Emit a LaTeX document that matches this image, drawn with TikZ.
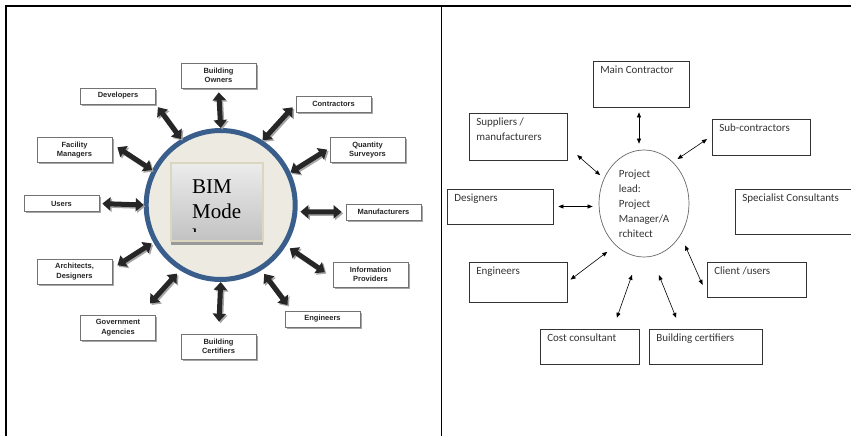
\documentclass[tikz,border=0pt]{standalone}
\usepackage{fontspec}
\setmainfont{Liberation Serif}
\newfontfamily\boxfont{Liberation Sans}
\newfontfamily\rolefont{Carlito}
\usetikzlibrary{arrows.meta,shapes.geometric,shadows}
\definecolor{ringblue}{RGB}{58,94,140}
\definecolor{ringfill}{RGB}{237,235,225}
\definecolor{bimedge}{RGB}{218,214,192}
\tikzset{
  party/.style={draw=black!55, fill=white, line width=0.7pt, minimum width=75pt, minimum height=16pt,
    inner sep=1pt, align=center, text=black!85, font=\boxfont\bfseries\fontsize{7.5}{9.5}\selectfont,
    drop shadow={shadow xshift=1.6pt, shadow yshift=-1.6pt, fill=black!35, opacity=1}},
  tall/.style={minimum height=25pt},
  fat/.style={line width=5pt, draw=black!85, {Triangle[width=13pt,length=8pt]}-{Triangle[width=13pt,length=8pt]},
    preaction={draw=black!35, line width=5pt, {Triangle[width=13pt,length=8pt]}-{Triangle[width=13pt,length=8pt]},
      transform canvas={shift={(1.5pt,-1.5pt)}}}},
  rolebox/.style={draw=black!80, line width=0.8pt, inner sep=0pt},
  roletext/.style={anchor=north west, inner sep=0pt, align=left, text=black!80,
    font=\rolefont\fontsize{11}{15}\selectfont},
  link/.style={line width=0.6pt, {Triangle[width=4pt,length=5pt]}-{Triangle[width=4pt,length=5pt]}}
}
\begin{document}
\begin{tikzpicture}[x=1pt,y=-1pt]
  \useasboundingbox (0,0) rectangle (851,436);
  \draw[line width=1.6pt] (6,436) -- (6,6) -- (851,6);
  \draw[line width=1.6pt] (441.5,6) -- (441.5,436);

  \node[circle, draw=ringblue, fill=ringfill, line width=5pt, minimum size=149pt, outer sep=2.5pt] (bim) at (220.7,205) {};
  \node[draw=bimedge, line width=1.2pt, top color=gray!15, bottom color=gray!48, minimum width=92pt, minimum height=78pt,
    drop shadow={shadow xshift=0pt, shadow yshift=-4pt, fill=black!40, opacity=1}] (bimbox) at (217,202) {};
  \begin{scope}
    \clip (171,163) rectangle (263,231);
    \node[anchor=north west, inner sep=0pt, align=left, font=\fontsize{21}{25}\selectfont] (bimtxt) at (192,180) {BIM\\Mode\\l};
  \end{scope}

  \node[party, tall] (own) at (218.5,75.5) {Building\\Owners};
  \node[party] (dev) at (118,96) {Developers};
  \node[party] (con) at (333.5,104) {Contractors};
  \node[party, tall] (fac) at (74.5,150) {Facility\\Managers};
  \node[party, tall] (qs) at (367.5,150) {Quantity\\Surveyors};
  \node[party] (usr) at (61.5,203.5) {Users};
  \node[party] (man) at (383.5,212) {Manufacturers};
  \node[party, tall] (arc) at (74.5,271.5) {Architects,\\Designers};
  \node[party, tall] (inf) at (370.5,274.5) {Information\\Providers};
  \node[party, tall] (gov) at (118,327.5) {Government\\Agencies};
  \node[party] (eng) at (322.5,319) {Engineers};
  \node[party, tall] (cer) at (218.5,346.5) {Building\\Certifiers};

  \draw[fat, shorten <=4pt] (own.south) -- (bim.north);
  \draw[fat, shorten <=3.5pt] (dev.south east) -- (bim.121);
  \draw[fat, shorten <=4.5pt] (con.west) -- (bim.57);
  \draw[fat, shorten <=6pt] ([yshift=6pt]fac.east) -- (bim.153);
  \draw[fat, shorten <=3pt] ([yshift=2pt]qs.west) -- (bim.25);
  \draw[fat, shorten <=3pt] (usr.east) -- (bim.west);
  \draw[fat, shorten <=4pt, shorten >=3pt] (man.west) -- (bim.-5);
  \draw[fat, shorten <=6pt, shorten >=2pt] ([yshift=3pt]arc.east) -- (bim.209);
  \draw[fat, shorten <=9.5pt, shorten >=4.5pt] ([yshift=-3pt]inf.west) -- (bim.-32);
  \draw[fat, shorten <=15pt, shorten >=4.5pt] ([xshift=22pt]gov.north) -- (bim.238);
  \draw[fat, shorten <=7pt, shorten >=4.5pt] ([xshift=7pt]eng.north west) -- (bim.-58);
  \draw[fat, shorten <=12pt] (cer.north) -- (bim.south);

  \node[ellipse, draw=black!60, line width=0.7pt, minimum width=90pt, minimum height=107pt, inner sep=0pt,
    align=left, text=black!80, font=\rolefont\fontsize{11}{15}\selectfont] (lead) at (644,203.5)
    {Project\\lead:\\Project\\Manager/A\\rchitect};

  \node[rolebox, minimum width=96pt, minimum height=46pt] (main) at (641,84) {};
  \node[rolebox, minimum width=98pt, minimum height=47pt] (sup) at (518,136.5) {};
  \node[rolebox, minimum width=98pt, minimum height=36pt] (sub) at (761,137) {};
  \node[rolebox, minimum width=106pt, minimum height=35pt] (des) at (500,206.5) {};
  \node[rolebox, minimum width=130pt, minimum height=45pt] (spc) at (800,211.5) {};
  \node[rolebox, minimum width=98pt, minimum height=40pt] (engr) at (518,282) {};
  \node[rolebox, minimum width=99pt, minimum height=35pt] (cli) at (756.5,279.5) {};
  \node[rolebox, minimum width=99pt, minimum height=35pt] (cst) at (589.5,346.5) {};
  \node[rolebox, minimum width=113pt, minimum height=35pt] (bcr) at (705.5,346.5) {};

  \node[roletext] (maint) at ([shift={(7.5pt,-5.5pt)}]main.north west) {Main Contractor};
  \node[roletext] (supt) at ([shift={(7.5pt,-5.5pt)}]sup.north west) {Suppliers /\\manufacturers};
  \node[roletext] (subt) at ([shift={(7.5pt,-5.5pt)}]sub.north west) {Sub-contractors};
  \node[roletext] (dest) at ([shift={(7.5pt,-5.5pt)}]des.north west) {Designers};
  \node[roletext] (spct) at ([shift={(7.5pt,-5.5pt)}]spc.north west) {Specialist Consultants};
  \node[roletext] (engrt) at ([shift={(7.5pt,-5.5pt)}]engr.north west) {Engineers};
  \node[roletext] (clit) at ([shift={(7.5pt,-5.5pt)}]cli.north west) {Client /users};
  \node[roletext] (cstt) at ([shift={(7.5pt,-5.5pt)}]cst.north west) {Cost consultant};
  \node[roletext] (bcrt) at ([shift={(7.5pt,-5.5pt)}]bcr.north west) {Building certifiers};

  \draw[link, shorten <=5pt, shorten >=6pt] ([xshift=-2pt]main.south) -- ([xshift=-2pt]main.south |- lead.north);
  \draw[link, shorten <=13pt, shorten >=5pt] ([yshift=-10pt]sup.east) -- (lead.148);
  \draw[link, shorten <=5.5pt, shorten >=5.5pt] (lead.55) -- ([yshift=1pt]sub.west);
  \draw[link, shorten <=5pt, shorten >=6pt] (des.east) -- (des.east -| lead.west);
  \draw[link, shorten <=4pt, shorten >=10.5pt] (engr.east) -- (lead.236);
  \draw[link, shorten <=19pt, shorten >=11.5pt] (lead.264) -- ([xshift=23.5pt]cst.north);
  \draw[link, shorten <=20pt, shorten >=11.5pt] (lead.278) -- ([xshift=-25pt]bcr.north);
  \draw[link, shorten <=11pt, shorten >=10pt] (lead.319) -- ([yshift=-14.5pt]cli.west);
\end{tikzpicture}
\end{document}
